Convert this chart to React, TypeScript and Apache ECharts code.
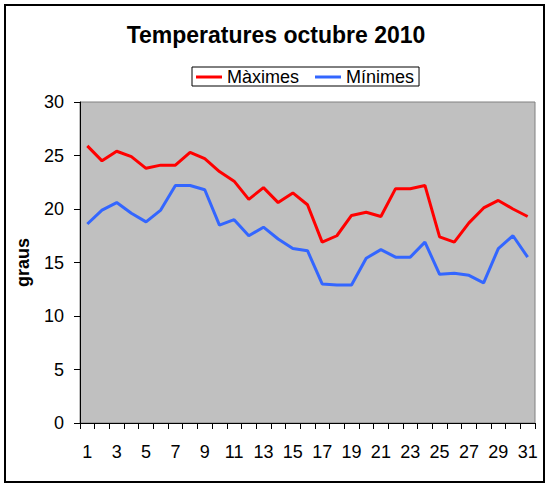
import React, { useEffect, useRef } from "react";
import * as echarts from "echarts";

const days = Array.from({ length: 31 }, (_, i) => String(i + 1));
const maxTemps = [
  25.9, 24.5, 25.4, 24.9, 23.8, 24.1, 24.1, 25.3, 24.7, 23.5, 22.6, 20.9, 22.0, 20.6, 21.5, 20.4,
  16.9, 17.5, 19.4, 19.7, 19.3, 21.9, 21.9, 22.2, 17.4, 16.9, 18.7, 20.1, 20.8, 20.0, 19.3,
];
const minTemps = [
  18.6, 19.9, 20.6, 19.6, 18.8, 19.9, 22.2, 22.2, 21.8, 18.5, 19.0, 17.5, 18.3, 17.2, 16.3, 16.1,
  13.0, 12.9, 12.9, 15.4, 16.2, 15.5, 15.5, 16.9, 13.9, 14.0, 13.8, 13.1, 16.3, 17.5, 15.5,
];
const seriesNames = ["Màximes", "Mínimes"];
const titleText = "Temperatures octubre 2010";
const yAxisName = "graus";

const FONT = "'Liberation Sans', Arial, sans-serif";

export default function App() {
  const ref = useRef<HTMLDivElement>(null);
  useEffect(() => {
    if (!ref.current) return;
    const chart = echarts.init(ref.current, null, { renderer: "svg" });
    chart.setOption({
      animation: false,
      backgroundColor: "#ffffff",
      textStyle: { fontFamily: FONT },
      title: {
        text: titleText,
        left: "center",
        top: 23,
        padding: 0,
        textStyle: { fontSize: 23, fontWeight: "bold", color: "#000", fontFamily: FONT },
      },
      legend: {
        data: seriesNames,
        left: 192,
        top: 67,
        padding: [1, 5, 0, 4],
        itemGap: 16,
        itemWidth: 26,
        itemHeight: 3,
        icon: "rect",
        borderColor: "#000",
        borderWidth: 1,
        backgroundColor: "#fff",
        borderRadius: 0,
        textStyle: { fontSize: 18, color: "#000", fontFamily: FONT },
      },
      grid: {
        left: 80,
        right: 17,
        top: 102,
        bottom: 61,
        show: true,
        backgroundColor: "#c0c0c0",
        borderColor: "#808080",
        borderWidth: 1,
      },
      xAxis: {
        type: "category",
        data: days,
        boundaryGap: true,
        axisLine: { show: true, lineStyle: { color: "#000", width: 1 } },
        axisTick: { show: true, interval: 0, length: 6, alignWithLabel: false, lineStyle: { color: "#000" } },
        axisLabel: { interval: 1, fontSize: 18, color: "#000", margin: 20, fontFamily: FONT },
        splitLine: { show: false },
      },
      yAxis: {
        type: "value",
        min: 0,
        max: 30,
        interval: 5,
        name: yAxisName,
        nameLocation: "middle",
        nameGap: 48,
        nameTextStyle: { fontSize: 18, fontWeight: "bold", color: "#000", fontFamily: FONT },
        axisLine: { show: true, lineStyle: { color: "#000", width: 1 } },
        axisTick: { show: true, length: 6, lineStyle: { color: "#000" } },
        axisLabel: { fontSize: 18, color: "#000", margin: 16, fontFamily: FONT },
        splitLine: { show: false },
      },
      graphic: [
        {
          type: "rect",
          shape: { x: 5, y: 5, width: 539, height: 477 },
          style: { fill: "none", stroke: "#000", lineWidth: 2 },
          silent: true,
          z: 100,
        },
      ],
      series: [
        {
          name: seriesNames[0],
          type: "line",
          data: maxTemps,
          showSymbol: false,
          symbol: "none",
          color: "#ff0000",
          lineStyle: { color: "#ff0000", width: 3 },
        },
        {
          name: seriesNames[1],
          type: "line",
          data: minTemps,
          showSymbol: false,
          symbol: "none",
          color: "#3366ff",
          lineStyle: { color: "#3366ff", width: 3 },
        },
      ],
    });
    return () => chart.dispose();
  }, []);
  return (
    <div
      ref={ref}
      style={{ position: "absolute", left: 0, top: 0, width: 552, height: 484 }}
    />
  );
}
